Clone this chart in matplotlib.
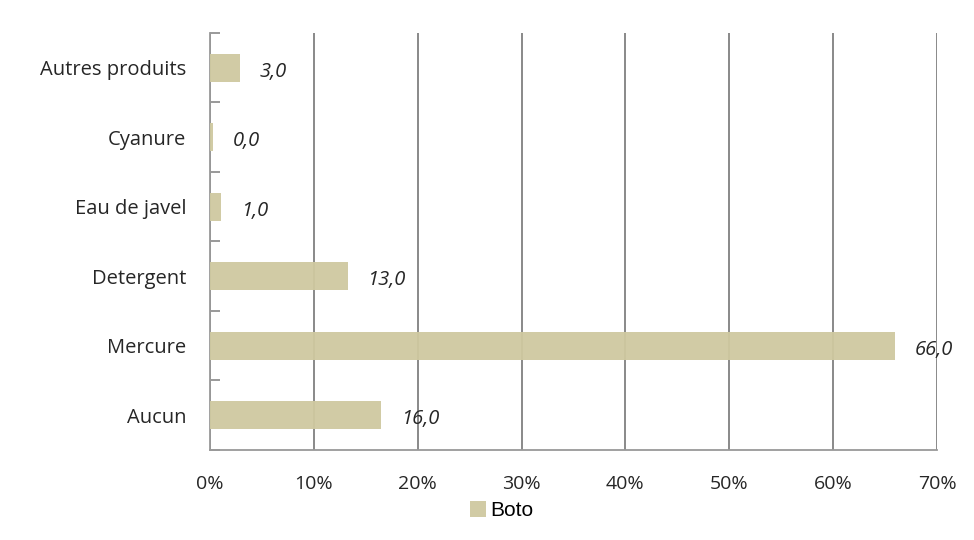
import matplotlib.pyplot as plt
import numpy as np

# donnees
categories = ['Aucun', 'Mercure', 'Detergent', 'Eau de javel', 'Cyanure', 'Autres produits']
valeurs = [16.5, 66.0, 13.3, 1.1, 0.3, 2.9]
etiquettes = ['16,0', '66,0', '13,0', '1,0', '0,0', '3,0']
xticks = [0, 10, 20, 30, 40, 50, 60, 70]

plt.rcParams['font.family'] = ['Open Sans', 'DejaVu Sans']

fig = plt.figure(figsize=(9.74, 5.4), dpi=100)
ax = fig.add_axes([0.2156, 0.1667, 0.962 - 0.2156, 0.939 - 0.1667])

y = np.arange(len(categories))
bars = ax.barh(y, valeurs, height=0.4, color='#cfc9a0', alpha=0.95,
               zorder=3, label='Boto')

for yi, v, lab in zip(y, valeurs, etiquettes):
    ax.annotate(lab, (v, yi), xytext=(14, -3), textcoords='offset points',
                ha='left', va='center', fontsize=14.5, style='italic',
                color='#262626')

ax.set_xlim(0, 70)
ax.set_ylim(-0.5, len(categories) - 0.5)
ax.set_xticks(xticks)
ax.set_xticklabels([f'{t}%' for t in xticks], fontsize=14, color='#262626')
ax.tick_params(axis='x', length=0, pad=18)

ax.set_yticks(y)
ax.set_yticklabels(categories, fontsize=14.5, color='#262626')
ax.tick_params(axis='y', length=0, pad=17)
ax.set_yticks(np.arange(-0.5, len(categories), 1), minor=True)
ax.tick_params(axis='y', which='minor', direction='in', length=7,
               color='#888888', width=1.2)

ax.grid(axis='x', color='#808080', linewidth=1.3, zorder=0)
for s in ['top', 'right']:
    ax.spines[s].set_visible(False)
ax.spines['left'].set_color('#999999')
ax.spines['bottom'].set_color('#999999')
ax.spines['left'].set_linewidth(1.3)
ax.spines['bottom'].set_linewidth(1.3)

fig.legend(handles=[bars], labels=['Boto'], loc='center',
           bbox_to_anchor=(0.515, 0.055), frameon=False, handlelength=0.8,
           handleheight=0.8, handletextpad=0.2,
           prop={'family': 'Liberation Sans', 'size': 15})

plt.savefig('out.png')
